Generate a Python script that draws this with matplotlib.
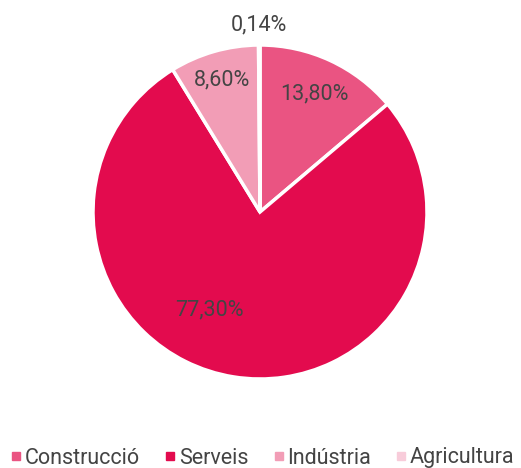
import numpy as np
import matplotlib.pyplot as plt
from matplotlib.lines import Line2D

labels = ['Construcció', 'Serveis', 'Indústria', 'Agricultura']
values = [13.80, 77.30, 8.60, 0.14]
pct_text = ['13,80%', '77,30%', '8,60%', '0,14%']
colors = ['#EA5482', '#E30B4E', '#F29DB6', '#F8CCDA']
# label placement: radius (fraction of pie radius) and angle shift in degrees
label_r = [0.78, 0.66, 0.82, 1.12]
label_shift = [0, -18, 0, 0]

plt.rcParams['font.family'] = ['Roboto', 'DejaVu Sans']

fig = plt.figure(figsize=(5.21, 4.68), dpi=100)
ax = fig.add_axes([93/521, 89/468, 334/521, 334/468])

wedges, _ = ax.pie(values, colors=colors, startangle=90, counterclock=False,
                   radius=1, wedgeprops=dict(edgecolor='white', linewidth=2.5))
ax.set_xlim(-1, 1)
ax.set_ylim(-1, 1)
ax.set_aspect('equal')
ax.axis('off')

for w, txt, r, s in zip(wedges, pct_text, label_r, label_shift):
    ang = np.deg2rad((w.theta1 + w.theta2) / 2 + s)
    ax.text(r * np.cos(ang), r * np.sin(ang), txt, ha='center', va='center',
            fontsize=15.5, color='#444444')

handles = [Line2D([], [], marker='s', linestyle='', markersize=6,
                  markerfacecolor=c, markeredgecolor=c) for c in colors]
fig.legend(handles, labels, loc='center left', ncol=4, frameon=False,
           fontsize=15.5, labelcolor='#444444', handletextpad=0.15,
           columnspacing=1.15, handlelength=0.5, borderpad=0, borderaxespad=0,
           bbox_to_anchor=(11/521, 1 - 458/468))

fig.savefig('out.png', dpi=100)
